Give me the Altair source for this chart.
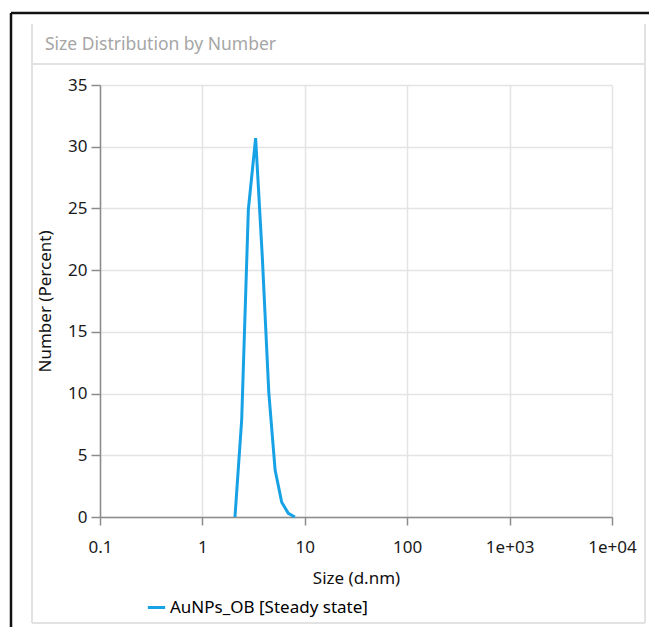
import altair as alt
import pandas as pd

# ---- data ----
sizes = [2.08, 2.42, 2.81, 3.31, 3.85, 4.45, 5.13, 5.95, 6.90, 8.00]
numbers = [0.0, 7.9, 24.9, 30.7, 21.0, 10.1, 3.8, 1.2, 0.3, 0.0]
series_name = "AuNPs_OB [Steady state]"
x_ticks = [0.1, 1, 10, 100, 1000, 10000]
x_tick_labels = ["0.1", "1", "10", "100", "1e+03", "1e+04"]
y_ticks = [0, 5, 10, 15, 20, 25, 30, 35]
panel_title = "Size Distribution by Number"

df = pd.DataFrame({"size": sizes, "number": numbers, "series": [series_name] * len(sizes)})

FONT = "Noto Sans"
FS = 17
W, H = 512, 432
PL, PT = 92, 77
TOTAL_W, TOTAL_H = 641, 619

label_expr = " : ".join(
    f"datum.value == {v} ? '{l}'" for v, l in zip(x_ticks, x_tick_labels)
) + " : datum.label"

line = alt.Chart(df).mark_line(strokeWidth=3, clip=False).encode(
    x=alt.X("size:Q",
            scale=alt.Scale(type="log", domain=[0.1, 10000], nice=False),
            axis=alt.Axis(values=x_ticks, labelExpr=label_expr, title="Size (d.nm)",
                          grid=True, tickSize=8, labelPadding=14, titlePadding=15,
                          labelFlush=False, labelOverlap=False)),
    y=alt.Y("number:Q",
            scale=alt.Scale(domain=[0, 35], nice=False),
            axis=alt.Axis(values=y_ticks, title="Number (Percent)", grid=True,
                          tickSize=9, labelPadding=4, titlePadding=13,
                          labelFlush=False)),
    color=alt.Color("series:N",
                    scale=alt.Scale(range=["#17a2e6"]),
                    legend=alt.Legend(title=None, orient="none", legendX=46, legendY=512,
                                      symbolType="stroke", symbolSize=300,
                                      symbolStrokeWidth=3, labelFontSize=FS,
                                      labelFont=FONT, labelColor="#000000",
                                      labelOffset=3, labelLimit=0)),
)

# decorative frame (pixel positions relative to plot origin)
def rule(x, x2, y, y2, color, width):
    return alt.Chart(df.head(1)).mark_rule(color=color, strokeWidth=width, clip=False).encode(
        x=alt.value(x), x2=alt.value(x2), y=alt.value(y), y2=alt.value(y2))

frame = [
    rule(-89, TOTAL_W - PL, -72, -72, "#111111", 2.5),
    rule(-89, -89, -72, TOTAL_H - PT, "#111111", 2.5),
    rule(-68, -68, -61, 538, "#e2e2e2", 2),
    rule(545, 545, -61, 538, "#e2e2e2", 2),
    rule(-68, 545, 538, 538, "#e2e2e2", 2),
    rule(-68, 545, -21, -21, "#e2e2e2", 2),
]

title_txt = alt.Chart(df.head(1)).mark_text(
    text=panel_title, align="left", baseline="middle", fontSize=17.5, font=FONT,
    color="#a6a6a6", clip=False
).encode(x=alt.value(-55), y=alt.value(-40))

chart = alt.layer(*frame, title_txt, line).properties(
    width=W, height=H,
    autosize=alt.AutoSizeParams(type="none"),
    padding={"left": PL, "top": PT, "right": TOTAL_W - PL - W, "bottom": TOTAL_H - PT - H},
    background="white",
).configure_view(stroke=None).configure_axis(
    labelFont=FONT, titleFont=FONT, labelFontSize=FS, titleFontSize=FS,
    labelColor="#1a1a1a", titleColor="#111111", titleFontWeight="normal",
    domainColor="#8c8c8c", tickColor="#8c8c8c", gridColor="#e4e4e4",
    domainWidth=1.5, tickWidth=1.5, gridWidth=1.5,
)

chart.save("out.html", embed_options={"renderer": "svg", "actions": False})
